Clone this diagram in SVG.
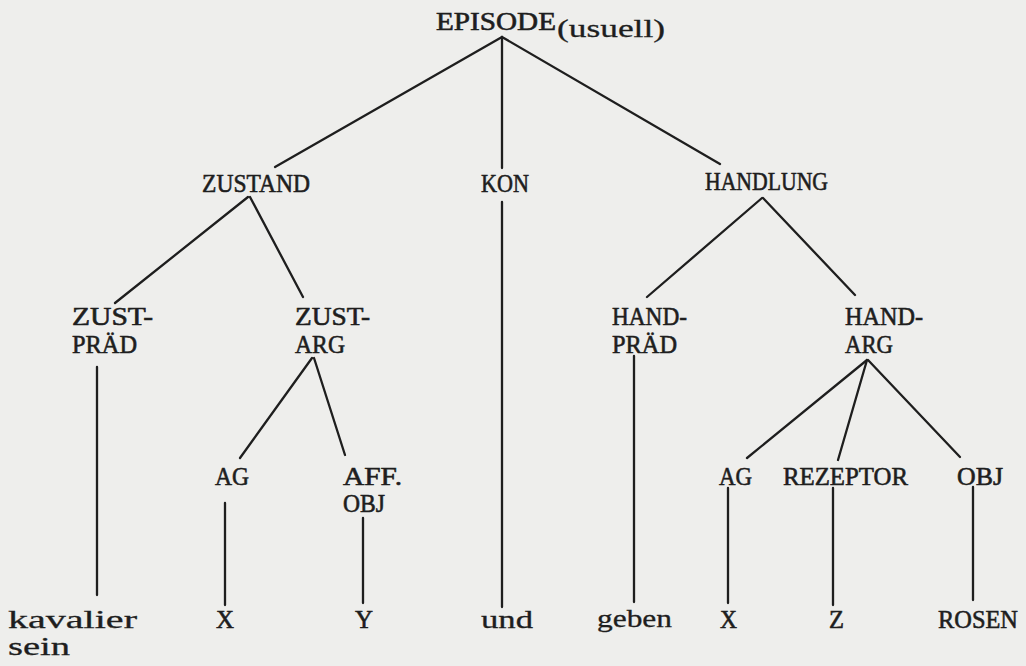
<svg xmlns="http://www.w3.org/2000/svg" width="1026" height="666" viewBox="0 0 1026 666">
  <style>
    .t { font-family: "Liberation Serif", "Times New Roman", serif; font-size: 26px; fill: #1e1e1e; stroke: #1e1e1e; stroke-width: 0.6; }
    .lc { font-size: 25px; stroke-width: 0.3; }
    .e { stroke: #1e1e1e; stroke-width: 2.3; fill: none; stroke-linecap: round; }
  </style>
  <rect width="1026" height="666" fill="#eeeeec"/>

  <!-- connectors -->
  <g id="edges" class="e">
    <line x1="502" y1="37" x2="275" y2="167"/>
    <line x1="502" y1="37" x2="720" y2="164"/>
    <line x1="502" y1="37" x2="502" y2="168"/>
    <line x1="502" y1="202" x2="502" y2="607"/>
    <line x1="248" y1="197" x2="115" y2="303"/>
    <line x1="250" y1="197" x2="303" y2="297"/>
    <line x1="97" y1="367" x2="97" y2="595"/>
    <line x1="312" y1="358" x2="240" y2="458"/>
    <line x1="314" y1="358" x2="345" y2="455"/>
    <line x1="225" y1="503" x2="225" y2="605"/>
    <line x1="363" y1="518" x2="363" y2="603"/>
    <line x1="762" y1="198" x2="647" y2="297"/>
    <line x1="763" y1="198" x2="855" y2="295"/>
    <line x1="634" y1="356" x2="634" y2="602"/>
    <line x1="867" y1="360" x2="747" y2="458"/>
    <line x1="867" y1="360" x2="838" y2="460"/>
    <line x1="868" y1="360" x2="960" y2="457"/>
    <line x1="728" y1="488" x2="728" y2="603"/>
    <line x1="833" y1="488" x2="833" y2="605"/>
    <line x1="973" y1="487" x2="973" y2="600"/>
  </g>

  <!-- nodes -->
  <g id="episode" class="t">
    <text x="436" y="30" textLength="120" lengthAdjust="spacingAndGlyphs">EPISODE</text>
    <text class="lc" x="557" y="37" textLength="108" lengthAdjust="spacingAndGlyphs">(usuell)</text>
  </g>
  <g id="zustand" class="t"><text x="202" y="192" textLength="108" lengthAdjust="spacingAndGlyphs">ZUSTAND</text></g>
  <g id="kon" class="t"><text x="481" y="192" textLength="48" lengthAdjust="spacingAndGlyphs">KON</text></g>
  <g id="handlung" class="t"><text x="705" y="190" textLength="123" lengthAdjust="spacingAndGlyphs">HANDLUNG</text></g>

  <g id="zust-praed" class="t">
    <text x="72" y="325" textLength="81" lengthAdjust="spacingAndGlyphs">ZUST-</text>
    <text x="72" y="353" textLength="65" lengthAdjust="spacingAndGlyphs">PRÄD</text>
  </g>
  <g id="zust-arg" class="t">
    <text x="295" y="325" textLength="75" lengthAdjust="spacingAndGlyphs">ZUST-</text>
    <text x="295" y="353" textLength="50" lengthAdjust="spacingAndGlyphs">ARG</text>
  </g>
  <g id="hand-praed" class="t">
    <text x="612" y="325" textLength="75" lengthAdjust="spacingAndGlyphs">HAND-</text>
    <text x="612" y="353" textLength="65" lengthAdjust="spacingAndGlyphs">PRÄD</text>
  </g>
  <g id="hand-arg" class="t">
    <text x="845" y="325" textLength="78" lengthAdjust="spacingAndGlyphs">HAND-</text>
    <text x="845" y="353" textLength="48" lengthAdjust="spacingAndGlyphs">ARG</text>
  </g>

  <g id="ag-1" class="t"><text x="215" y="485" textLength="34" lengthAdjust="spacingAndGlyphs">AG</text></g>
  <g id="aff-obj" class="t">
    <text x="343" y="485" textLength="59" lengthAdjust="spacingAndGlyphs">AFF.</text>
    <text x="343" y="512" textLength="42" lengthAdjust="spacingAndGlyphs">OBJ</text>
  </g>
  <g id="ag-2" class="t"><text x="719" y="485" textLength="33" lengthAdjust="spacingAndGlyphs">AG</text></g>
  <g id="rezeptor" class="t"><text x="783" y="485" textLength="125" lengthAdjust="spacingAndGlyphs">REZEPTOR</text></g>
  <g id="obj" class="t"><text x="957" y="485" textLength="46" lengthAdjust="spacingAndGlyphs">OBJ</text></g>

  <g id="kavalier-sein" class="t">
    <text class="lc" x="8" y="628" textLength="129" lengthAdjust="spacingAndGlyphs">kavalier</text>
    <text class="lc" x="8" y="655" textLength="62" lengthAdjust="spacingAndGlyphs">sein</text>
  </g>
  <g id="x-1" class="t"><text x="216" y="628" textLength="18" lengthAdjust="spacingAndGlyphs">X</text></g>
  <g id="y" class="t"><text x="355" y="628" textLength="18" lengthAdjust="spacingAndGlyphs">Y</text></g>
  <g id="und" class="t"><text class="lc" x="481" y="628" textLength="52" lengthAdjust="spacingAndGlyphs">und</text></g>
  <g id="geben" class="t"><text class="lc" x="597" y="627" textLength="75" lengthAdjust="spacingAndGlyphs">geben</text></g>
  <g id="x-2" class="t"><text x="720" y="628" textLength="17" lengthAdjust="spacingAndGlyphs">X</text></g>
  <g id="z" class="t"><text x="829" y="628" textLength="15" lengthAdjust="spacingAndGlyphs">Z</text></g>
  <g id="rosen" class="t"><text x="938" y="628" textLength="80" lengthAdjust="spacingAndGlyphs">ROSEN</text></g>
</svg>
